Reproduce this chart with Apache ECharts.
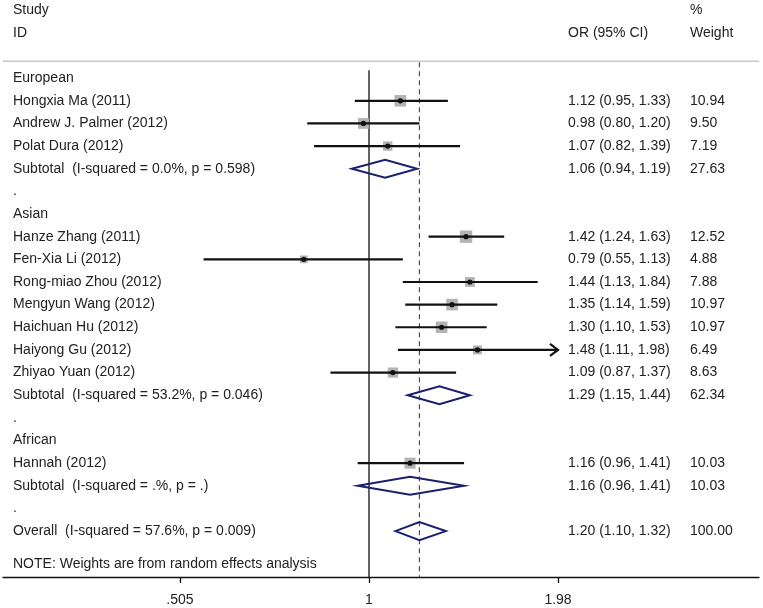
<!DOCTYPE html>
<html><head><meta charset="utf-8">
<script src="https://cdn.jsdelivr.net/npm/echarts@6/dist/echarts.min.js"></script>
<style>html,body{margin:0;padding:0;background:#fff}#c{width:763px;height:608px}</style>
</head><body><div id="c"></div>
<script>
const rowLabels = ['European','Hongxia Ma (2011)','Andrew J. Palmer (2012)','Polat Dura (2012)',
  'Subtotal  (I-squared = 0.0%, p = 0.598)','.','Asian','Hanze Zhang (2011)','Fen-Xia Li (2012)',
  'Rong-miao Zhou (2012)','Mengyun Wang (2012)','Haichuan Hu (2012)','Haiyong Gu (2012)','Zhiyao Yuan (2012)',
  'Subtotal  (I-squared = 53.2%, p = 0.046)','.','African','Hannah (2012)','Subtotal  (I-squared = .%, p = .)','.',
  'Overall  (I-squared = 57.6%, p = 0.009)'];
const rowKinds = ['group','study','study','study','pooled','gap','group','study','study','study','study','study','study','study',
  'pooled','gap','group','study','pooled','gap','pooled'];
const orValues = [null,1.12,0.98,1.07,1.06,null,null,1.42,0.79,1.44,1.35,1.30,1.48,1.09,1.29,null,null,1.16,1.16,null,1.20];
const ciLower  = [null,0.95,0.80,0.82,0.94,null,null,1.24,0.55,1.13,1.14,1.10,1.11,0.87,1.15,null,null,0.96,0.96,null,1.10];
const ciUpper  = [null,1.33,1.20,1.39,1.19,null,null,1.63,1.13,1.84,1.59,1.53,1.98,1.37,1.44,null,null,1.41,1.41,null,1.32];
const weights  = [null,10.94,9.50,7.19,27.63,null,null,12.52,4.88,7.88,10.97,10.97,6.49,8.63,62.34,null,null,10.03,10.03,null,100.00];
const overallOR = 1.20;
const nullOR = 1;
const xTickValues = [0.505, 1, 1.98];
const xTickLabels = ['.505', '1', '1.98'];
const headStudy = 'Study', headId = 'ID', headOR = 'OR (95% CI)', headPct = '%', headWeight = 'Weight';
const noteText = 'NOTE: Weights are from random effects analysis';

const FONT = '14px "Liberation Sans", Arial, sans-serif';
const TXT = '#222';
const NAVY = '#1a1f6e';
const X_LABEL = 13, X_OR = 568, X_WT = 690;
const Y_MIN = -3.45, Y_MAX = 22.026;

function txt(s, x, y) {
  return {type:'text', style:{text:s, x:x, y:y, font:FONT, fill:TXT, align:'left', verticalAlign:'middle', textAlign:'left', textVerticalAlign:'middle'}};
}

const chart = echarts.init(document.getElementById('c'), null, {renderer:'canvas'});
const rowData = rowLabels.map((l, i) => [i]);
const lastTick = xTickValues[xTickValues.length - 1];

chart.setOption({
  animation:false,
  backgroundColor:'#fff',
  grid:{left:3, right:4, top:0, bottom:31},
  xAxis:{type:'value', min:-1.3227, max:1.4095, position:'bottom',
    axisLine:{show:true, onZero:false, lineStyle:{color:'#111', width:1.3}},
    axisTick:{show:true, inside:false, length:6, lineStyle:{color:'#111', width:1.3}, customValues:xTickValues.map(Math.log)},
    axisLabel:{show:true, margin:16, color:TXT, fontSize:14, fontFamily:'"Liberation Sans", Arial, sans-serif',
      customValues:xTickValues.map(Math.log),
      formatter:function(v){ let k=0, d=1e9; xTickValues.forEach((t,j)=>{const dd=Math.abs(Math.log(t)-v); if(dd<d){d=dd;k=j;}}); return xTickLabels[k]; }},
    splitLine:{show:false}},
  yAxis:{type:'value', inverse:true, min:Y_MIN, max:Y_MAX, show:false, splitLine:{show:false}},
  series:[
    {type:'custom', z:1, data:[[0]], renderItem:function(params, api){
      const sepY = api.coord([0, -0.75])[1];
      const bottom = api.coord([0, Y_MAX])[1];
      const x1 = api.coord([Math.log(nullOR), 0])[0];
      const xo = api.coord([Math.log(overallOR), 0])[0];
      const topNull = api.coord([0, -0.35])[1];
      const topOv = api.coord([0, -0.7])[1];
      return {type:'group', children:[
        {type:'line', shape:{x1:3, y1:sepY, x2:759, y2:sepY}, style:{stroke:'#c8c8c8', lineWidth:1.5}},
        {type:'line', shape:{x1:x1, y1:topNull, x2:x1, y2:bottom}, style:{stroke:'#111', lineWidth:1.3}},
        {type:'line', shape:{x1:xo, y1:topOv, x2:xo, y2:bottom}, style:{stroke:'#9a2840', lineWidth:1.2, lineDash:[5,4]}},
        txt(headStudy, X_LABEL, api.coord([0,-3])[1]),
        txt(headId, X_LABEL, api.coord([0,-2])[1]),
        txt(headOR, X_OR, api.coord([0,-2])[1]),
        txt(headPct, X_WT, api.coord([0,-3])[1]),
        txt(headWeight, X_WT, api.coord([0,-2])[1]),
        txt(noteText, X_LABEL, api.coord([0,21.45])[1])
      ]};
    }},
    {type:'custom', z:2, data:rowData, renderItem:function(params, api){
      const i = api.value(0);
      const y = api.coord([0, i])[1];
      const kids = [txt(rowLabels[i], X_LABEL, y)];
      const kind = rowKinds[i];
      if (kind === 'study' || kind === 'pooled') {
        const xl = api.coord([Math.log(ciLower[i]), i])[0];
        const xh = api.coord([Math.log(ciUpper[i]), i])[0];
        const xm = api.coord([Math.log(orValues[i]), i])[0];
        if (kind === 'study') {
          const s = 3.5 * Math.sqrt(weights[i]);
          kids.push({type:'rect', shape:{x:xm - s/2, y:y - s/2, width:s, height:s}, style:{fill:'#b4b4b4'}});
          kids.push({type:'line', shape:{x1:xl, y1:y, x2:xh, y2:y}, style:{stroke:'#111', lineWidth:2.2}});
          kids.push({type:'circle', shape:{cx:xm, cy:y, r:2.6}, style:{fill:'#111'}});
          if (ciUpper[i] >= lastTick) {
            kids.push({type:'polyline', shape:{points:[[xh-8, y-6],[xh, y],[xh-8, y+6]]}, style:{stroke:'#111', lineWidth:2.2, fill:null}});
          }
        } else {
          const h = 9;
          kids.push({type:'polygon', shape:{points:[[xl,y],[xm,y-h],[xh,y],[xm,y+h]]}, style:{fill:null, stroke:NAVY, lineWidth:2}});
        }
        kids.push(txt(orValues[i].toFixed(2) + ' (' + ciLower[i].toFixed(2) + ', ' + ciUpper[i].toFixed(2) + ')', X_OR, y));
        kids.push(txt(weights[i].toFixed(2), X_WT, y));
      }
      return {type:'group', children:kids};
    }}
  ]
});
</script></body></html>
